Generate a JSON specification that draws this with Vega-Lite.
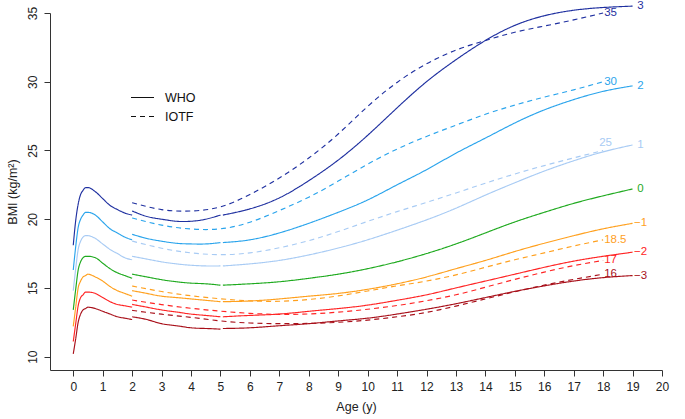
{
"$schema": "https://vega.github.io/schema/vega-lite/v6.json",
"width": 612, "height": 357,
"autosize": "none",
"padding": {"left": 50, "top": 13, "right": 23, "bottom": 49},
"background": "white",
"config": {
  "view": {"stroke": null},
  "font": "Liberation Sans",
  "axis": {"domainColor": "#333", "tickColor": "#333", "labelColor": "#222", "titleColor": "#222", "labelFont": "Liberation Sans", "titleFont": "Liberation Sans", "labelFontSize": 12, "titleFontSize": 12.5, "titleFontWeight": "normal", "grid": false, "tickSize": 6, "domainWidth": 1, "tickWidth": 1}
},
"datasets": {
"who": [
{"g":"3","s":1,"a":0,"b":18.1},{"g":"3","s":1,"a":0.083,"b":19.9},{"g":"3","s":1,"a":0.167,"b":21.1},{"g":"3","s":1,"a":0.25,"b":21.8},{"g":"3","s":1,"a":0.333,"b":22.1},{"g":"3","s":1,"a":0.417,"b":22.3},{"g":"3","s":1,"a":0.5,"b":22.3},{"g":"3","s":1,"a":0.75,"b":22.0},{"g":"3","s":1,"a":1,"b":21.5},{"g":"3","s":1,"a":1.25,"b":21.0},{"g":"3","s":1,"a":1.5,"b":20.7},{"g":"3","s":1,"a":1.75,"b":20.45},{"g":"3","s":1,"a":2,"b":20.3},
{"g":"2","s":1,"a":0,"b":16.3},{"g":"2","s":1,"a":0.083,"b":18.0},{"g":"2","s":1,"a":0.167,"b":19.4},{"g":"2","s":1,"a":0.25,"b":20.0},{"g":"2","s":1,"a":0.333,"b":20.3},{"g":"2","s":1,"a":0.417,"b":20.5},{"g":"2","s":1,"a":0.5,"b":20.5},{"g":"2","s":1,"a":0.75,"b":20.3},{"g":"2","s":1,"a":1,"b":19.8},{"g":"2","s":1,"a":1.25,"b":19.3},{"g":"2","s":1,"a":1.5,"b":19.0},{"g":"2","s":1,"a":1.75,"b":18.7},{"g":"2","s":1,"a":2,"b":18.5},
{"g":"1","s":1,"a":0,"b":14.8},{"g":"1","s":1,"a":0.083,"b":16.4},{"g":"1","s":1,"a":0.167,"b":17.8},{"g":"1","s":1,"a":0.25,"b":18.4},{"g":"1","s":1,"a":0.333,"b":18.7},{"g":"1","s":1,"a":0.417,"b":18.8},{"g":"1","s":1,"a":0.5,"b":18.8},{"g":"1","s":1,"a":0.75,"b":18.6},{"g":"1","s":1,"a":1,"b":18.2},{"g":"1","s":1,"a":1.25,"b":17.8},{"g":"1","s":1,"a":1.5,"b":17.5},{"g":"1","s":1,"a":1.75,"b":17.2},{"g":"1","s":1,"a":2,"b":17.05},
{"g":"0","s":1,"a":0,"b":13.4},{"g":"0","s":1,"a":0.083,"b":14.9},{"g":"0","s":1,"a":0.167,"b":16.3},{"g":"0","s":1,"a":0.25,"b":16.9},{"g":"0","s":1,"a":0.333,"b":17.2},{"g":"0","s":1,"a":0.417,"b":17.3},{"g":"0","s":1,"a":0.5,"b":17.3},{"g":"0","s":1,"a":0.75,"b":17.2},{"g":"0","s":1,"a":1,"b":16.8},{"g":"0","s":1,"a":1.25,"b":16.4},{"g":"0","s":1,"a":1.5,"b":16.1},{"g":"0","s":1,"a":1.75,"b":15.9},{"g":"0","s":1,"a":2,"b":15.7},
{"g":"-1","s":1,"a":0,"b":12.2},{"g":"-1","s":1,"a":0.083,"b":13.6},{"g":"-1","s":1,"a":0.167,"b":15.0},{"g":"-1","s":1,"a":0.25,"b":15.5},{"g":"-1","s":1,"a":0.333,"b":15.8},{"g":"-1","s":1,"a":0.417,"b":15.9},{"g":"-1","s":1,"a":0.5,"b":16.0},{"g":"-1","s":1,"a":0.75,"b":15.8},{"g":"-1","s":1,"a":1,"b":15.5},{"g":"-1","s":1,"a":1.25,"b":15.1},{"g":"-1","s":1,"a":1.5,"b":14.8},{"g":"-1","s":1,"a":1.75,"b":14.6},{"g":"-1","s":1,"a":2,"b":14.4},
{"g":"-2","s":1,"a":0,"b":11.1},{"g":"-2","s":1,"a":0.083,"b":12.4},{"g":"-2","s":1,"a":0.167,"b":13.7},{"g":"-2","s":1,"a":0.25,"b":14.3},{"g":"-2","s":1,"a":0.333,"b":14.5},{"g":"-2","s":1,"a":0.417,"b":14.7},{"g":"-2","s":1,"a":0.5,"b":14.7},{"g":"-2","s":1,"a":0.75,"b":14.6},{"g":"-2","s":1,"a":1,"b":14.3},{"g":"-2","s":1,"a":1.25,"b":14.0},{"g":"-2","s":1,"a":1.5,"b":13.8},{"g":"-2","s":1,"a":1.75,"b":13.7},{"g":"-2","s":1,"a":2,"b":13.6},
{"g":"-3","s":1,"a":0,"b":10.2},{"g":"-3","s":1,"a":0.083,"b":11.3},{"g":"-3","s":1,"a":0.167,"b":12.5},{"g":"-3","s":1,"a":0.25,"b":13.1},{"g":"-3","s":1,"a":0.333,"b":13.4},{"g":"-3","s":1,"a":0.417,"b":13.5},{"g":"-3","s":1,"a":0.5,"b":13.6},{"g":"-3","s":1,"a":0.75,"b":13.5},{"g":"-3","s":1,"a":1,"b":13.3},{"g":"-3","s":1,"a":1.25,"b":13.1},{"g":"-3","s":1,"a":1.5,"b":12.9},{"g":"-3","s":1,"a":1.75,"b":12.8},{"g":"-3","s":1,"a":2,"b":12.7},
{"g":"3","s":2,"a":2,"b":20.6},{"g":"3","s":2,"a":2.5,"b":20.2},{"g":"3","s":2,"a":3,"b":20.0},{"g":"3","s":2,"a":3.5,"b":19.85},{"g":"3","s":2,"a":4,"b":19.85},{"g":"3","s":2,"a":4.5,"b":20.0},{"g":"3","s":2,"a":5,"b":20.3},
{"g":"2","s":2,"a":2,"b":18.9},{"g":"2","s":2,"a":2.5,"b":18.6},{"g":"2","s":2,"a":3,"b":18.4},{"g":"2","s":2,"a":3.5,"b":18.25},{"g":"2","s":2,"a":4,"b":18.2},{"g":"2","s":2,"a":4.5,"b":18.2},{"g":"2","s":2,"a":5,"b":18.3},
{"g":"1","s":2,"a":2,"b":17.3},{"g":"1","s":2,"a":2.5,"b":17.1},{"g":"1","s":2,"a":3,"b":16.9},{"g":"1","s":2,"a":3.5,"b":16.75},{"g":"1","s":2,"a":4,"b":16.65},{"g":"1","s":2,"a":4.5,"b":16.6},{"g":"1","s":2,"a":5,"b":16.6},
{"g":"0","s":2,"a":2,"b":16.0},{"g":"0","s":2,"a":2.5,"b":15.8},{"g":"0","s":2,"a":3,"b":15.6},{"g":"0","s":2,"a":3.5,"b":15.45},{"g":"0","s":2,"a":4,"b":15.35},{"g":"0","s":2,"a":4.5,"b":15.3},{"g":"0","s":2,"a":5,"b":15.2},
{"g":"-1","s":2,"a":2,"b":14.8},{"g":"-1","s":2,"a":2.5,"b":14.6},{"g":"-1","s":2,"a":3,"b":14.4},{"g":"-1","s":2,"a":3.5,"b":14.3},{"g":"-1","s":2,"a":4,"b":14.2},{"g":"-1","s":2,"a":4.5,"b":14.1},{"g":"-1","s":2,"a":5,"b":14.0},
{"g":"-2","s":2,"a":2,"b":13.8},{"g":"-2","s":2,"a":2.5,"b":13.6},{"g":"-2","s":2,"a":3,"b":13.4},{"g":"-2","s":2,"a":3.5,"b":13.25},{"g":"-2","s":2,"a":4,"b":13.1},{"g":"-2","s":2,"a":4.5,"b":13.0},{"g":"-2","s":2,"a":5,"b":12.9},
{"g":"-3","s":2,"a":2,"b":12.9},{"g":"-3","s":2,"a":2.5,"b":12.7},{"g":"-3","s":2,"a":3,"b":12.4},{"g":"-3","s":2,"a":3.5,"b":12.25},{"g":"-3","s":2,"a":4,"b":12.1},{"g":"-3","s":2,"a":4.5,"b":12.05},{"g":"-3","s":2,"a":5,"b":12.0},
{"g":"3","s":3,"a":5.083,"b":20.3},{"g":"3","s":3,"a":6,"b":20.75},{"g":"3","s":3,"a":7,"b":21.55},{"g":"3","s":3,"a":8,"b":22.8},{"g":"3","s":3,"a":9,"b":24.3},{"g":"3","s":3,"a":10,"b":26.1},{"g":"3","s":3,"a":11,"b":28.1},{"g":"3","s":3,"a":12,"b":30.0},{"g":"3","s":3,"a":13,"b":31.6},{"g":"3","s":3,"a":14,"b":33.0},{"g":"3","s":3,"a":15,"b":34.1},{"g":"3","s":3,"a":16,"b":34.8},{"g":"3","s":3,"a":17,"b":35.2},{"g":"3","s":3,"a":18,"b":35.4},{"g":"3","s":3,"a":19,"b":35.5},
{"g":"2","s":3,"a":5.083,"b":18.3},{"g":"2","s":3,"a":6,"b":18.5},{"g":"2","s":3,"a":7,"b":19.0},{"g":"2","s":3,"a":8,"b":19.7},{"g":"2","s":3,"a":9,"b":20.5},{"g":"2","s":3,"a":10,"b":21.4},{"g":"2","s":3,"a":11,"b":22.5},{"g":"2","s":3,"a":12,"b":23.6},{"g":"2","s":3,"a":13,"b":24.8},{"g":"2","s":3,"a":14,"b":25.9},{"g":"2","s":3,"a":15,"b":27.0},{"g":"2","s":3,"a":16,"b":27.95},{"g":"2","s":3,"a":17,"b":28.7},{"g":"2","s":3,"a":18,"b":29.3},{"g":"2","s":3,"a":19,"b":29.7},
{"g":"1","s":3,"a":5.083,"b":16.6},{"g":"1","s":3,"a":6,"b":16.75},{"g":"1","s":3,"a":7,"b":17.0},{"g":"1","s":3,"a":8,"b":17.4},{"g":"1","s":3,"a":9,"b":17.9},{"g":"1","s":3,"a":10,"b":18.5},{"g":"1","s":3,"a":11,"b":19.2},{"g":"1","s":3,"a":12,"b":19.95},{"g":"1","s":3,"a":13,"b":20.8},{"g":"1","s":3,"a":14,"b":21.75},{"g":"1","s":3,"a":15,"b":22.65},{"g":"1","s":3,"a":16,"b":23.5},{"g":"1","s":3,"a":17,"b":24.25},{"g":"1","s":3,"a":18,"b":24.9},{"g":"1","s":3,"a":19,"b":25.4},
{"g":"0","s":3,"a":5.083,"b":15.2},{"g":"0","s":3,"a":6,"b":15.3},{"g":"0","s":3,"a":7,"b":15.45},{"g":"0","s":3,"a":8,"b":15.7},{"g":"0","s":3,"a":9,"b":16.0},{"g":"0","s":3,"a":10,"b":16.4},{"g":"0","s":3,"a":11,"b":16.9},{"g":"0","s":3,"a":12,"b":17.5},{"g":"0","s":3,"a":13,"b":18.2},{"g":"0","s":3,"a":14,"b":19.0},{"g":"0","s":3,"a":15,"b":19.8},{"g":"0","s":3,"a":16,"b":20.5},{"g":"0","s":3,"a":17,"b":21.15},{"g":"0","s":3,"a":18,"b":21.7},{"g":"0","s":3,"a":19,"b":22.2},
{"g":"-1","s":3,"a":5.083,"b":14.0},{"g":"-1","s":3,"a":6,"b":14.05},{"g":"-1","s":3,"a":7,"b":14.2},{"g":"-1","s":3,"a":8,"b":14.4},{"g":"-1","s":3,"a":9,"b":14.6},{"g":"-1","s":3,"a":10,"b":14.9},{"g":"-1","s":3,"a":11,"b":15.3},{"g":"-1","s":3,"a":12,"b":15.8},{"g":"-1","s":3,"a":13,"b":16.4},{"g":"-1","s":3,"a":14,"b":17.0},{"g":"-1","s":3,"a":15,"b":17.65},{"g":"-1","s":3,"a":16,"b":18.25},{"g":"-1","s":3,"a":17,"b":18.8},{"g":"-1","s":3,"a":18,"b":19.3},{"g":"-1","s":3,"a":19,"b":19.7},
{"g":"-2","s":3,"a":5.083,"b":12.9},{"g":"-2","s":3,"a":6,"b":13.0},{"g":"-2","s":3,"a":7,"b":13.1},{"g":"-2","s":3,"a":8,"b":13.3},{"g":"-2","s":3,"a":9,"b":13.5},{"g":"-2","s":3,"a":10,"b":13.75},{"g":"-2","s":3,"a":11,"b":14.1},{"g":"-2","s":3,"a":12,"b":14.5},{"g":"-2","s":3,"a":13,"b":15.0},{"g":"-2","s":3,"a":14,"b":15.5},{"g":"-2","s":3,"a":15,"b":16.0},{"g":"-2","s":3,"a":16,"b":16.5},{"g":"-2","s":3,"a":17,"b":16.95},{"g":"-2","s":3,"a":18,"b":17.3},{"g":"-2","s":3,"a":19,"b":17.6},
{"g":"-3","s":3,"a":5.083,"b":12.05},{"g":"-3","s":3,"a":6,"b":12.1},{"g":"-3","s":3,"a":7,"b":12.25},{"g":"-3","s":3,"a":8,"b":12.4},{"g":"-3","s":3,"a":9,"b":12.6},{"g":"-3","s":3,"a":10,"b":12.8},{"g":"-3","s":3,"a":11,"b":13.1},{"g":"-3","s":3,"a":12,"b":13.45},{"g":"-3","s":3,"a":13,"b":13.85},{"g":"-3","s":3,"a":14,"b":14.3},{"g":"-3","s":3,"a":15,"b":14.75},{"g":"-3","s":3,"a":16,"b":15.15},{"g":"-3","s":3,"a":17,"b":15.5},{"g":"-3","s":3,"a":18,"b":15.75},{"g":"-3","s":3,"a":19,"b":15.9}
],
"iotf": [
{"g":"3","a":2,"b":21.2},{"g":"3","a":3,"b":20.7},{"g":"3","a":4,"b":20.6},{"g":"3","a":5,"b":20.9},{"g":"3","a":6,"b":21.8},{"g":"3","a":7,"b":23.0},{"g":"3","a":8,"b":24.45},{"g":"3","a":9,"b":26.2},{"g":"3","a":10,"b":28.2},{"g":"3","a":11,"b":29.95},{"g":"3","a":12,"b":31.3},{"g":"3","a":13,"b":32.3},{"g":"3","a":14,"b":33.0},{"g":"3","a":15,"b":33.6},{"g":"3","a":16,"b":34.05},{"g":"3","a":17,"b":34.5},{"g":"3","a":18,"b":35.0},
{"g":"2","a":2,"b":20.09},{"g":"2","a":3,"b":19.57},{"g":"2","a":4,"b":19.29},{"g":"2","a":5,"b":19.3},{"g":"2","a":6,"b":19.78},{"g":"2","a":7,"b":20.63},{"g":"2","a":8,"b":21.6},{"g":"2","a":9,"b":22.77},{"g":"2","a":10,"b":24.0},{"g":"2","a":11,"b":25.1},{"g":"2","a":12,"b":26.02},{"g":"2","a":13,"b":26.84},{"g":"2","a":14,"b":27.63},{"g":"2","a":15,"b":28.3},{"g":"2","a":16,"b":28.88},{"g":"2","a":17,"b":29.41},{"g":"2","a":18,"b":30.0},
{"g":"1","a":2,"b":18.41},{"g":"1","a":3,"b":17.89},{"g":"1","a":4,"b":17.55},{"g":"1","a":5,"b":17.42},{"g":"1","a":6,"b":17.55},{"g":"1","a":7,"b":17.92},{"g":"1","a":8,"b":18.44},{"g":"1","a":9,"b":19.1},{"g":"1","a":10,"b":19.84},{"g":"1","a":11,"b":20.55},{"g":"1","a":12,"b":21.22},{"g":"1","a":13,"b":21.91},{"g":"1","a":14,"b":22.62},{"g":"1","a":15,"b":23.29},{"g":"1","a":16,"b":23.9},{"g":"1","a":17,"b":24.46},{"g":"1","a":18,"b":25.0},
{"g":"-1","a":2,"b":15.14},{"g":"-1","a":3,"b":14.74},{"g":"-1","a":4,"b":14.43},{"g":"-1","a":5,"b":14.21},{"g":"-1","a":6,"b":14.06},{"g":"-1","a":7,"b":14.03},{"g":"-1","a":8,"b":14.16},{"g":"-1","a":9,"b":14.42},{"g":"-1","a":10,"b":14.78},{"g":"-1","a":11,"b":15.15},{"g":"-1","a":12,"b":15.5},{"g":"-1","a":13,"b":15.95},{"g":"-1","a":14,"b":16.5},{"g":"-1","a":15,"b":17.05},{"g":"-1","a":16,"b":17.55},{"g":"-1","a":17,"b":18.05},{"g":"-1","a":18,"b":18.5},
{"g":"-2","a":2,"b":14.12},{"g":"-2","a":3,"b":13.79},{"g":"-2","a":4,"b":13.52},{"g":"-2","a":5,"b":13.31},{"g":"-2","a":6,"b":13.15},{"g":"-2","a":7,"b":13.08},{"g":"-2","a":8,"b":13.11},{"g":"-2","a":9,"b":13.24},{"g":"-2","a":10,"b":13.45},{"g":"-2","a":11,"b":13.72},{"g":"-2","a":12,"b":14.07},{"g":"-2","a":13,"b":14.5},{"g":"-2","a":14,"b":15.05},{"g":"-2","a":15,"b":15.62},{"g":"-2","a":16,"b":16.15},{"g":"-2","a":17,"b":16.62},{"g":"-2","a":18,"b":17.0},
{"g":"-3","a":2,"b":13.37},{"g":"-3","a":3,"b":13.09},{"g":"-3","a":4,"b":12.86},{"g":"-3","a":5,"b":12.6},{"g":"-3","a":6,"b":12.45},{"g":"-3","a":7,"b":12.4},{"g":"-3","a":8,"b":12.42},{"g":"-3","a":9,"b":12.5},{"g":"-3","a":10,"b":12.66},{"g":"-3","a":11,"b":12.9},{"g":"-3","a":12,"b":13.22},{"g":"-3","a":13,"b":13.68},{"g":"-3","a":14,"b":14.2},{"g":"-3","a":15,"b":14.72},{"g":"-3","a":16,"b":15.2},{"g":"-3","a":17,"b":15.62},{"g":"-3","a":18,"b":16.0}
],
"wlab": [
{"g":"3","t":"3","a":19,"b":35.5},{"g":"2","t":"2","a":19,"b":29.7},{"g":"1","t":"1","a":19,"b":25.4},{"g":"0","t":"0","a":19,"b":22.2},{"g":"-1","t":"−1","a":19,"b":19.7},{"g":"-2","t":"−2","a":19,"b":17.6},{"g":"-3","t":"−3","a":19,"b":15.9}
],
"ilab": [
{"g":"3","t":"35","a":18,"b":35.0},{"g":"2","t":"30","a":18,"b":30.0},{"g":"-1","t":"18.5","a":18,"b":18.5},{"g":"-2","t":"17","a":18,"b":17.0},{"g":"-3","t":"16","a":18,"b":16.0}
],
"ilab25": [
{"g":"1","t":"25","a":18,"b":25.0}
]
},
"encoding": {
  "x": {"field": "a", "type": "quantitative", "scale": {"domain": [-0.79, 20], "nice": false, "zero": false},
        "axis": {"values": [0,1,2,3,4,5,6,7,8,9,10,11,12,13,14,15,16,17,18,19,20], "title": "Age (y)", "labelPadding": 5, "titlePadding": 8, "labelFlush": false}},
  "y": {"field": "b", "type": "quantitative", "scale": {"domain": [9.03, 35], "nice": false, "zero": false},
        "axis": {"values": [10,15,20,25,30,35], "title": "BMI (kg/m²)", "labelAngle": 270, "labelAlign": "center", "labelBaseline": "bottom", "labelPadding": 5, "titlePadding": 7, "labelFlush": false}},
  "color": {"field": "g", "type": "nominal", "legend": null,
            "scale": {"domain": ["3","2","1","0","-1","-2","-3"], "range": ["#1f30a0","#2aa4ec","#a8cbf4","#1faa1f","#ffa01e","#ff2424","#a8101a"]}}
},
"layer": [
  {"data": {"name": "who"}, "transform": [{"filter": "datum.s == 1"}], "mark": {"type": "line", "strokeWidth": 1.15, "interpolate": "monotone"},
   "encoding": {"detail": {"field": "s", "type": "nominal"},
     "strokeDash": {"datum": "WHO", "type": "nominal", "scale": {"domain": ["WHO","IOTF"], "range": [[1,0],[5,4]]},
       "legend": {"orient": "none", "legendX": 80, "legendY": 72, "title": null, "symbolType": "stroke", "symbolSize": 529, "symbolStrokeColor": "#111", "symbolStrokeWidth": 1.15, "labelFontSize": 12.5, "labelFont": "Liberation Sans", "labelColor": "#111", "labelOffset": 10, "rowPadding": 0, "padding": 0}}}},
  {"data": {"name": "who"}, "transform": [{"filter": "datum.s != 1"}], "mark": {"type": "line", "strokeWidth": 1.15, "interpolate": "natural"},
   "encoding": {"detail": {"field": "s", "type": "nominal"}, "strokeDash": {"datum": "WHO", "type": "nominal"}}},
  {"data": {"name": "iotf"}, "mark": {"type": "line", "strokeWidth": 1.15, "interpolate": "natural"},
   "encoding": {"strokeDash": {"datum": "IOTF", "type": "nominal"}}},
  {"data": {"name": "wlab"}, "mark": {"type": "text", "align": "center", "baseline": "middle", "dx": 8, "fontSize": 11.5},
   "encoding": {"text": {"field": "t"}}},
  {"data": {"name": "ilab"}, "mark": {"type": "text", "align": "left", "baseline": "middle", "dx": 1, "fontSize": 11.5},
   "encoding": {"text": {"field": "t"}}},
  {"data": {"name": "ilab25"}, "mark": {"type": "text", "align": "left", "baseline": "middle", "dx": -4, "dy": -7, "fontSize": 11.5},
   "encoding": {"text": {"field": "t"}}}
]
}
